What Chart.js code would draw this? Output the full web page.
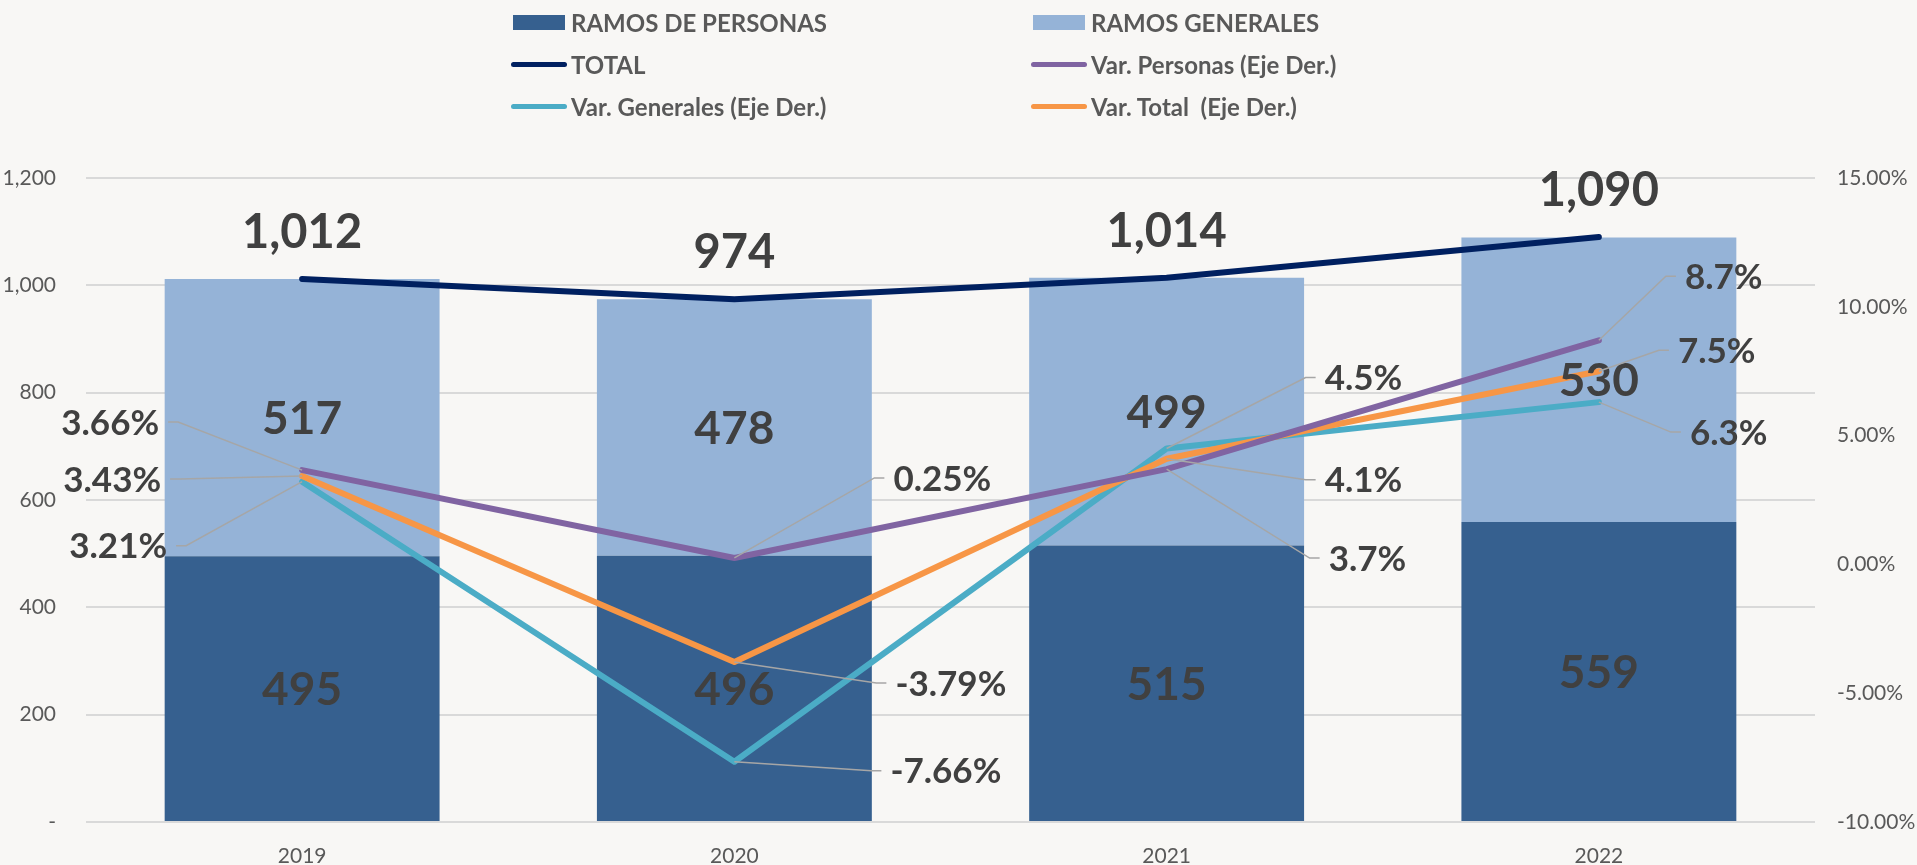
<!DOCTYPE html>
<html><head><meta charset="utf-8">
<script src="https://cdn.jsdelivr.net/npm/chart.js@4.4.1/dist/chart.umd.min.js"></script>
<style>
html,body{margin:0;padding:0;background:#F8F7F5;}
#wrap{position:relative;width:1917px;height:865px;overflow:hidden;background:#F8F7F5;}
#c{position:absolute;left:0;top:0;}
#legend{position:absolute;left:511px;top:1px;display:grid;grid-template-columns:520px auto;grid-auto-rows:42px;font:bold 24px Lato;color:#595959;}
.item{display:flex;align-items:center;white-space:pre;}
.sw{width:56px;height:20px;display:flex;align-items:center;justify-content:center;margin-right:4px;}
</style></head>
<body><div id="wrap"><canvas id="c" width="1917" height="865"></canvas><div id="legend"></div></div>
<script>
// ---- data ----
const years = ['2019', '2020', '2021', '2022'];
const ramosPersonas = [495, 496, 515, 559];
const ramosGenerales = [517, 478, 499, 530];
const total = [1012, 974, 1014, 1090];
const varPersonas = [3.66, 0.25, 3.7, 8.7];
const varGenerales = [3.21, -7.66, 4.5, 6.3];
const varTotal = [3.43, -3.79, 4.1, 7.5];
const pctDecimals = [2, 2, 1, 1];
const leftTicks = [0, 200, 400, 600, 800, 1000, 1200];
const rightTicks = [-10, -5, 0, 5, 10, 15];

// ---- label placement (near-edge offset from point: dx, dy) ----
const pctLabelLayout = {
  3: [[-143, -48], [159, -80], [162, 89], [86, -64]],
  4: [[-135, 64], [156, 9], [158, -71], [91, 30]],
  5: [[-141, 3], [161, 21], [158, 21], [79, -21]]
};

const fmtInt = v => v.toLocaleString('en-US');
const TXT = '#404040';

function drawCentered(ctx, text, x, cy, size, align) {
  ctx.font = 'bold ' + size + 'px Lato';
  ctx.textAlign = align || 'center';
  ctx.textBaseline = 'alphabetic';
  ctx.fillText(text, x, cy + size * 0.717 / 2);
}

const labelPlugin = {
  id: 'valueLabels',
  afterDatasetsDraw(chart) {
    const ctx = chart.ctx;
    ctx.save();
    ctx.fillStyle = TXT;
    [0, 1].forEach(di => {
      chart.getDatasetMeta(di).data.forEach((el, j) => {
        drawCentered(ctx, fmtInt(chart.data.datasets[di].data[j]), el.x, (el.y + el.base) / 2, 46);
      });
    });
    chart.getDatasetMeta(2).data.forEach((el, j) => {
      drawCentered(ctx, fmtInt(chart.data.datasets[2].data[j]), el.x, el.y - 48, 47);
    });
    Object.keys(pctLabelLayout).forEach(k => {
      const di = +k;
      chart.getDatasetMeta(di).data.forEach((el, j) => {
        const [dx, dy] = pctLabelLayout[k][j];
        const side = Math.sign(dx);
        const v = chart.data.datasets[di].data[j];
        const text = v.toFixed(pctDecimals[j]) + '%';
        const ex = el.x + dx, ey = el.y + dy;
        const hx2 = ex - side * 9, hx1 = hx2 - side * 10;
        ctx.strokeStyle = '#A6A6A6';
        ctx.lineWidth = 1.5;
        ctx.beginPath();
        ctx.moveTo(el.x, el.y);
        ctx.lineTo(hx1, ey);
        ctx.lineTo(hx2, ey);
        ctx.stroke();
        ctx.fillStyle = TXT;
        drawCentered(ctx, text, ex, ey, 35, side > 0 ? 'left' : 'right');
      });
    });
    ctx.restore();
  }
};

const lineDs = (label, data, color, axis, order) => ({
  type: 'line', label, data, yAxisID: axis, borderColor: color, backgroundColor: color,
  borderWidth: 6, pointRadius: 0, pointHoverRadius: 0, tension: 0, order,
  borderCapStyle: 'round', borderJoinStyle: 'round', stack: label, fill: false
});

const chart = new Chart(document.getElementById('c'), {
  type: 'bar',
  data: {
    labels: years,
    datasets: [
      { label: 'RAMOS DE PERSONAS', data: ramosPersonas, backgroundColor: '#36608F', yAxisID: 'y', stack: 'ramos', order: 10, barPercentage: 0.636, categoryPercentage: 1 },
      { label: 'RAMOS GENERALES', data: ramosGenerales, backgroundColor: '#95B3D7', yAxisID: 'y', stack: 'ramos', order: 10, barPercentage: 0.636, categoryPercentage: 1 },
      lineDs('TOTAL', total, '#002060', 'y', 4),
      lineDs('Var. Personas (Eje Der.)', varPersonas, '#8064A2', 'y1', 1),
      lineDs('Var. Generales (Eje Der.)', varGenerales, '#4BACC6', 'y1', 3),
      lineDs('Var. Total  (Eje Der.)', varTotal, '#F79646', 'y1', 2)
    ]
  },
  options: {
    responsive: false,
    animation: false,
    layout: { padding: { top: 178, left: 0, right: 0, bottom: 0 } },
    plugins: { legend: { display: false }, tooltip: { enabled: false } },
    scales: {
      x: {
        stacked: true,
        grid: { display: false, drawTicks: false },
        border: { display: false },
        ticks: { color: '#595959', font: { family: 'Lato', size: 21 }, padding: 22 },
        afterFit: s => { s.height = 43; }
      },
      y: {
        stacked: true, min: 0, max: 1200,
        afterBuildTicks: s => { s.ticks = leftTicks.map(v => ({ value: v })); },
        grid: { color: '#D9D9D9', lineWidth: 2, drawTicks: false },
        border: { display: false },
        ticks: { color: '#595959', font: { family: 'Lato', size: 21 }, padding: 30,
          callback: v => v === 0 ? '-' : fmtInt(v) },
        afterFit: s => { s.width = 86; }
      },
      y1: {
        position: 'right', min: -10, max: 15,
        afterBuildTicks: s => { s.ticks = rightTicks.map(v => ({ value: v })); },
        grid: { display: false, drawTicks: false },
        border: { display: false },
        ticks: { color: '#595959', font: { family: 'Lato', size: 21 }, padding: 22,
          callback: v => v.toFixed(2) + '%' },
        afterFit: s => { s.width = 102; }
      }
    }
  },
  plugins: [labelPlugin]
});

// ---- HTML legend built from the chart's datasets ----
const legendEl = document.getElementById('legend');
chart.data.datasets.forEach(ds => {
  const item = document.createElement('div');
  item.className = 'item';
  const sw = document.createElement('span');
  sw.className = 'sw';
  const mark = document.createElement('span');
  if (ds.type === 'line') {
    mark.style.cssText = 'display:block;width:56px;height:5px;border-radius:3px;background:' + ds.borderColor;
  } else {
    mark.style.cssText = 'display:block;width:52px;height:15px;background:' + ds.backgroundColor;
  }
  sw.appendChild(mark);
  const t = document.createElement('span');
  t.textContent = ds.label;
  item.appendChild(sw);
  item.appendChild(t);
  legendEl.appendChild(item);
});
</script>
</body></html>
